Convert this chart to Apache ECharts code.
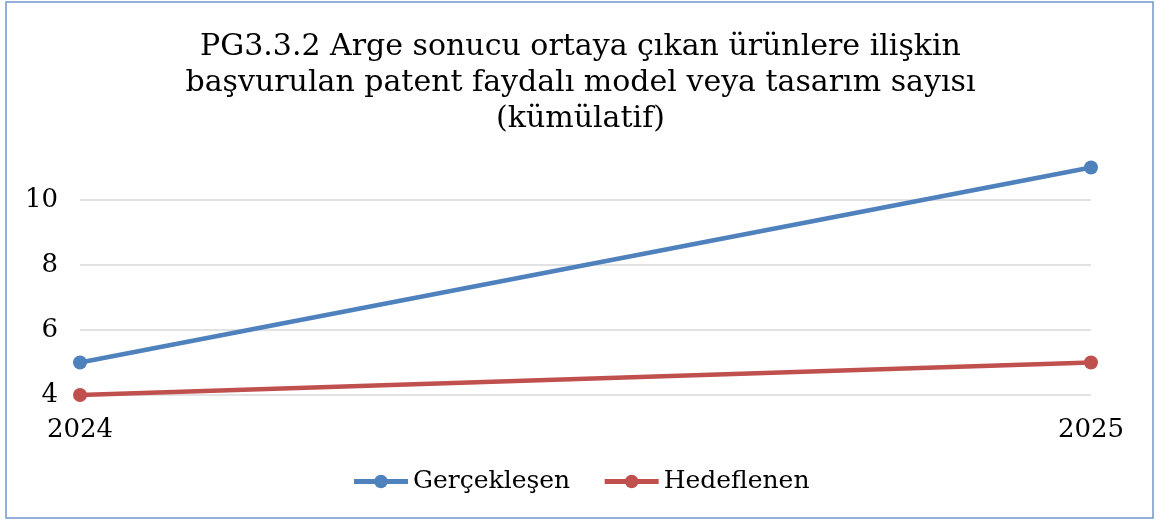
<!DOCTYPE html>
<html lang="tr">
<head>
  <meta charset="UTF-8">
  <title>PG3.3.2</title>
  <script src="https://cdn.jsdelivr.net/npm/echarts@6.0.0/dist/echarts.min.js"></script>
  <style>
    html, body { margin: 0; padding: 0; background: #fff; }
    #chart-container { width: 1161px; height: 520px; }
  </style>
</head>
<body>
  <div id="chart-container"></div>
  <script>
    // data
    const years = ['2024', '2025'];
    const gerceklesen = [5, 11];
    const hedeflenen = [4, 5];

    const serif = '"DejaVu Serif", "Liberation Serif", serif';

    const myChart = echarts.init(document.getElementById('chart-container'));
    myChart.setOption({
      animation: false,
      backgroundColor: '#ffffff',
      graphic: [{
        type: 'rect',
        shape: { x: 6, y: 2, width: 1147, height: 516 },
        style: { fill: 'none', stroke: '#7197cc', lineWidth: 1.5 },
        silent: true
      }],
      title: {
        text: 'PG3.3.2 Arge sonucu ortaya çıkan ürünlere ilişkin\nbaşvurulan patent faydalı model veya tasarım sayısı\n(kümülatif)',
        left: 'center',
        top: 24,
        textStyle: {
          fontFamily: serif,
          fontSize: 30,
          fontWeight: 'normal',
          lineHeight: 36,
          color: '#000'
        }
      },
      legend: {
        bottom: 21,
        left: 'center',
        itemWidth: 54,
        itemHeight: 17,
        itemGap: 32,
        lineStyle: { width: 5 },
        textStyle: { fontFamily: serif, fontSize: 25, color: '#000' },
        data: ['Gerçekleşen', 'Hedeflenen']
      },
      grid: { left: 80, right: 70, top: 167.5, bottom: 125, containLabel: false },
      xAxis: {
        type: 'category',
        data: years,
        boundaryGap: false,
        axisLine: { show: false },
        axisTick: { show: false },
        axisLabel: { fontFamily: serif, fontSize: 26, color: '#000', margin: 22 }
      },
      yAxis: {
        type: 'value',
        min: 4,
        max: 11,
        interval: 2,
        axisLine: { show: false },
        axisTick: { show: false },
        axisLabel: { fontFamily: serif, fontSize: 26, color: '#000', margin: 22, showMaxLabel: false },
        splitLine: { showMaxLine: false, lineStyle: { color: '#d9d9d9', width: 1.5 } }
      },
      series: [
        {
          name: 'Gerçekleşen',
          type: 'line',
          data: gerceklesen,
          symbol: 'circle',
          symbolSize: 14,
          itemStyle: { color: '#4f81bd' },
          lineStyle: { color: '#4f81bd', width: 4.5 }
        },
        {
          name: 'Hedeflenen',
          type: 'line',
          data: hedeflenen,
          symbol: 'circle',
          symbolSize: 14,
          itemStyle: { color: '#c0504d' },
          lineStyle: { color: '#c0504d', width: 4.5 }
        }
      ]
    });
  </script>
</body>
</html>
